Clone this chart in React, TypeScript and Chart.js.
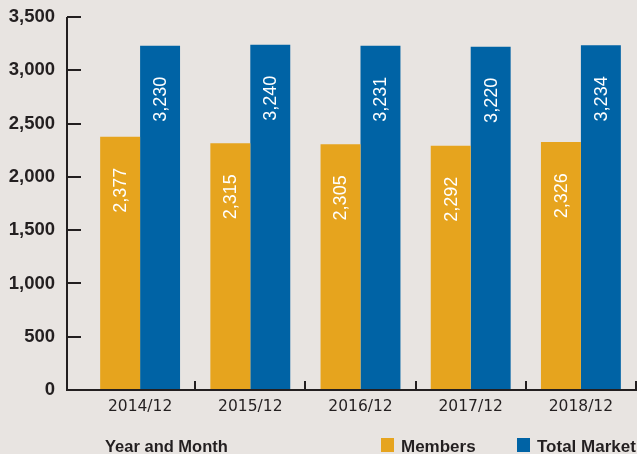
import React, { useEffect, useRef } from "react";
import { Chart, registerables } from "chart.js";

Chart.register(...registerables);

const categories = ["2014/12", "2015/12", "2016/12", "2017/12", "2018/12"];
const members = [2377, 2315, 2305, 2292, 2326];
const totalMarket = [3230, 3240, 3231, 3220, 3234];
const yTicks = [0, 500, 1000, 1500, 2000, 2500, 3000, 3500];
const seriesNames = ["Members", "Total Market"];
const seriesColors = ["#E6A41E", "#0063A5"];
const xTitle = "Year and Month";

const BG = "#E8E4E1";
const AXIS = "#231F20";
const AXIS_X = 67;

const fmt = (v: number) => v.toLocaleString("en-US");

const customPlugin = {
  id: "custom",
  beforeDraw(chart: any) {
    const { ctx, width, height } = chart;
    ctx.save();
    ctx.fillStyle = BG;
    ctx.fillRect(0, 0, width, height);
    ctx.restore();
  },
  afterDatasetsDraw(chart: any) {
    const { ctx, chartArea } = chart;
    const y = chart.scales.y;
    const x = chart.scales.x;
    ctx.save();
    ctx.strokeStyle = AXIS;
    ctx.lineWidth = 2;
    // y axis line
    ctx.beginPath();
    ctx.moveTo(AXIS_X, y.getPixelForValue(3500));
    ctx.lineTo(AXIS_X, y.getPixelForValue(0) + 1);
    ctx.stroke();
    // y ticks inward
    yTicks.forEach((v) => {
      const py = Math.round(y.getPixelForValue(v));
      ctx.beginPath();
      ctx.moveTo(AXIS_X, py);
      ctx.lineTo(AXIS_X + 14, py);
      ctx.stroke();
    });
    // baseline
    const by = Math.round(y.getPixelForValue(0));
    ctx.beginPath();
    ctx.moveTo(AXIS_X, by);
    ctx.lineTo(chartArea.right + 2, by);
    ctx.stroke();
    // category boundary ticks
    for (let i = 0; i < categories.length; i++) {
      const px = Math.round(x.getPixelForValue(i + 0.5));
      ctx.beginPath();
      ctx.moveTo(px, by);
      ctx.lineTo(px, by - 9);
      ctx.stroke();
    }
    // value labels
    ctx.fillStyle = "#FFFFFF";
    ctx.font = "18px 'Liberation Sans', Arial, sans-serif";
    ctx.textAlign = "right";
    ctx.textBaseline = "middle";
    chart.data.datasets.forEach((ds: any, di: number) => {
      const meta = chart.getDatasetMeta(di);
      meta.data.forEach((bar: any, i: number) => {
        ctx.save();
        ctx.translate(bar.x + 1, bar.y + 31);
        ctx.rotate(-Math.PI / 2);
        ctx.fillText(fmt(ds.data[i]), 0, 0);
        ctx.restore();
      });
    });
    // x title
    ctx.fillStyle = AXIS;
    ctx.textAlign = "left";
    ctx.textBaseline = "alphabetic";
    ctx.font = "bold 16.5px 'Liberation Sans', Arial, sans-serif";
    ctx.fillText(xTitle, 105, 452);
    // legend
    ctx.font = "bold 17px 'Liberation Sans', Arial, sans-serif";
    const legendX = [381, 517];
    seriesNames.forEach((name, i) => {
      ctx.fillStyle = seriesColors[i];
      ctx.fillRect(legendX[i], 438, 13, 14);
      ctx.fillStyle = AXIS;
      ctx.fillText(name, legendX[i] + 20, 452);
    });
    ctx.restore();
  },
};

export default function App() {
  const ref = useRef<HTMLCanvasElement | null>(null);
  useEffect(() => {
    if (!ref.current) return;
    const chart = new Chart(ref.current, {
      type: "bar",
      data: {
        labels: categories,
        datasets: [
          { label: seriesNames[0], data: members, backgroundColor: seriesColors[0] },
          { label: seriesNames[1], data: totalMarket, backgroundColor: seriesColors[1] },
        ],
      },
      options: {
        animation: false,
        responsive: false,
        maintainAspectRatio: false,
        layout: { padding: { top: 17, right: 1, left: 0, bottom: 0 } },
        datasets: { bar: { categoryPercentage: 0.725, barPercentage: 1 } },
        plugins: { legend: { display: false }, tooltip: { enabled: false } },
        scales: {
          x: {
            grid: { display: false, drawTicks: false },
            border: { display: false },
            ticks: {
              color: AXIS,
              padding: 8,
              font: { family: "'DejaVu Sans', sans-serif", size: 15.5 },
            },
            afterFit: (s: any) => {
              s.height = 64;
            },
          },
          y: {
            min: 0,
            max: 3500,
            grid: { display: false, drawTicks: false },
            border: { display: false },
            ticks: {
              stepSize: 500,
              color: AXIS,
              padding: 30,
              font: { family: "'Liberation Sans', Arial, sans-serif", size: 18.5, weight: "bold" },
              callback: (v: any) => fmt(Number(v)),
            },
            afterFit: (s: any) => {
              s.width = 85;
              s.paddingTop = 0;
              s.paddingBottom = 0;
            },
          },
        },
      },
      plugins: [customPlugin],
    });
    return () => chart.destroy();
  }, []);
  return (
    <div style={{ position: "fixed", left: 0, top: 0, width: 637, height: 454, background: BG }}>
      <canvas ref={ref} width={637} height={454} style={{ display: "block" }} />
    </div>
  );
}
